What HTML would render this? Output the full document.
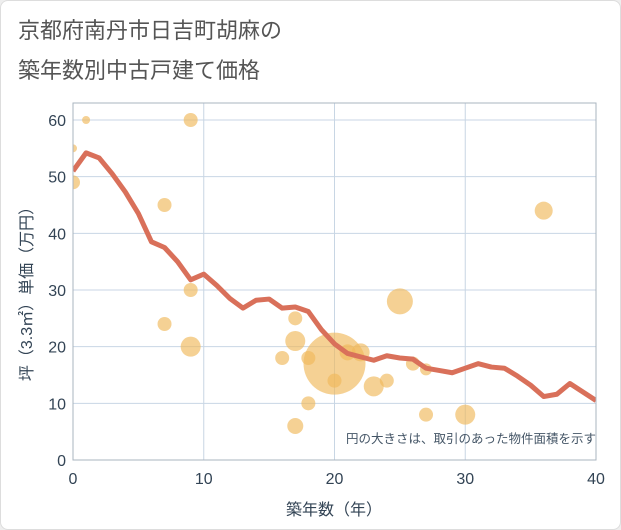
<!DOCTYPE html>
<html><head><meta charset="utf-8"><style>
body{margin:0;background:#eeeeee;font-family:"Liberation Sans","Noto Sans CJK JP",sans-serif;}
#card{position:absolute;left:0;top:0;width:619px;height:528px;background:#fff;border:1px solid #ddd;border-radius:8px;}
</style></head><body>
<div id="card">
<svg width="621" height="530" style="position:absolute;left:-1px;top:-1px" id="svg">
<defs><clipPath id="plotclip"><rect x="73" y="103" width="523" height="357"/></clipPath></defs>
<text x="18" y="38" font-size="22" fill="#555">京都府南丹市日吉町胡麻の</text>
<text x="18" y="78" font-size="22" fill="#555">築年数別中古戸建て価格</text>
<g id="grid"></g><g id="bubbles" clip-path="url(#plotclip)"></g><g id="line" clip-path="url(#plotclip)"></g><g id="axes"></g>
<text x="596" y="443" font-size="12.5" fill="#445566" text-anchor="end">円の大きさは、取引のあった物件面積を示す</text>
<text x="334" y="515" font-size="16" fill="#334455" text-anchor="middle">築年数（年）</text>
<text transform="translate(32,290) rotate(-90)" font-size="16" fill="#334455" text-anchor="middle">坪（3.3㎡）単価（万円）</text>
</svg></div>
<script>
const xTicks=[0,10,20,30,40];
const yTicks=[0,10,20,30,40,50,60];
const lineYears=[0,1,2,3,4,5,6,7,8,9,10,11,12,13,14,15,16,17,18,19,20,21,22,23,24,25,26,27,28,29,30,31,32,33,34,35,36,37,38,39,40];
const lineValues=[51,54.2,53.3,50.5,47.3,43.5,38.5,37.5,35,31.8,32.8,30.8,28.5,26.8,28.2,28.4,26.8,27,26.2,23,20.5,18.8,18.2,17.6,18.4,18,17.8,16.2,15.8,15.4,16.2,17,16.4,16.2,14.8,13.2,11.2,11.6,13.5,12,10.5];
const bubbleX=[0,1,0,7,9,9,7,9,17,17,16,18,20,20,22,21,18,17,25,23,24,26,27,27,30,36];
const bubbleY=[55,60,49,45,60,30,24,20,25,21,18,18,17,14,19,19,10,6,28,13,14,17,16,8,8,44];
const bubbleR=[4,4,7,7,7,7,7,10,7,10,7,7,31,7,9,8,7,8,13,10,7,7,6,7,10,9];
const NS='http://www.w3.org/2000/svg';
const X=v=>73+v*(596-73)/40, Y=v=>460-v*(340/60);
function mk(t,a,p){const e=document.createElementNS(NS,t);for(const k in a)e.setAttribute(k,a[k]);p.appendChild(e);return e;}
const g=document.getElementById('grid'),ax=document.getElementById('axes');
xTicks.forEach(t=>{const l=mk('line',{x1:X(t),x2:X(t),y1:103,y2:460,stroke:'#c8d6e4','stroke-width':1},g);


const s=mk('text',{x:X(t),y:484,'font-size':16,fill:'#334455','text-anchor':'middle'},ax);s.textContent=t;

});
yTicks.forEach(t=>{const l=mk('line',{x1:73,x2:596,y1:Y(t),y2:Y(t),stroke:'#c8d6e4','stroke-width':1},g);


const s=mk('text',{x:66,y:Y(t)+6,'font-size':16,fill:'#334455','text-anchor':'end'},ax);s.textContent=t;

});
const fr=mk('rect',{x:73,y:103,width:523,height:357,fill:'none',stroke:'#aab4bf','stroke-width':1},ax);


const b=document.getElementById('bubbles');
bubbleX.forEach((v,i)=>{const c=mk('circle',{cx:X(v),cy:Y(bubbleY[i]),r:bubbleR[i],fill:'rgba(240,185,90,0.65)'},b);

});
const p=mk('polyline',{points:lineYears.map((v,i)=>X(v)+','+Y(lineValues[i])).join(' '),fill:'none',stroke:'#d9705a','stroke-width':5,'stroke-linejoin':'round'},document.getElementById('line'));


</script></body></html>
